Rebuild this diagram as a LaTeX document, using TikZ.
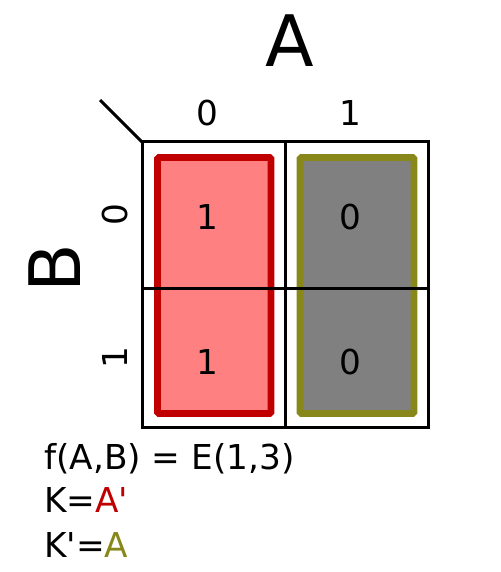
\documentclass[tikz,border=0pt]{standalone}
\usepackage{fontspec}
\setmainfont{DejaVu Sans}[Ligatures=TeXOff]
\definecolor{kred}{RGB}{192,0,0}
\definecolor{kpink}{RGB}{255,128,128}
\definecolor{kgray}{RGB}{128,128,128}
\definecolor{kolive}{RGB}{136,136,26}
\begin{document}
\begin{tikzpicture}[x=1pt,y=-1pt,
  grid/.style={draw=black,line width=3pt},
  lbl/.style={inner sep=0pt,font=\fontsize{34.3}{40}\selectfont},
  big/.style={inner sep=0pt,font=\fontsize{71}{80}\selectfont},
  grp/.style={line width=6.8pt,rounded corners=1.5pt}]
\useasboundingbox (0,0) rectangle (500,572);
% groups
\filldraw[grp,fill=kpink,draw=kred] (157.5,157.5) rectangle (271,413.5);
\filldraw[grp,fill=kgray,draw=kolive] (300,157.5) rectangle (414,413.5);
% grid
\coordinate (tl) at (142,142);
\coordinate (br) at (428,427);
\coordinate (d) at (100,100);
\draw[grid] (tl) rectangle (br);
\draw[grid] (285,142) -- (285,427);
\draw[grid] (142,288) -- (428,288);
\draw[line width=3pt] (d) -- (tl);
% labels
\node[big] (A) at (290,40.5) {A};
\node[big,rotate=90] (B) at (55,268) {B};
\node[lbl,anchor=base] (a0) at (207,126) {0};
\node[lbl,anchor=base] (a1) at (350,126) {1};
\node[lbl,rotate=90] (b0) at (115,215) {0};
\node[lbl,rotate=90] (b1) at (115,358) {1};
\node[lbl] (c00) at (207,217) {1};
\node[lbl] (c01) at (350,217) {0};
\node[lbl] (c10) at (207,362) {1};
\node[lbl] (c11) at (350,362) {0};
% formulas
\node[lbl,anchor=base west] (f) at (44,469) {f(A,B) = E(1,3)};
\node[lbl,anchor=base west] (k) at (44,512) {K=\textcolor{kred}{A'}};
\node[lbl,anchor=base west] (kp) at (44,557) {K'=\textcolor{kolive}{A}};
\end{tikzpicture}
\end{document}
